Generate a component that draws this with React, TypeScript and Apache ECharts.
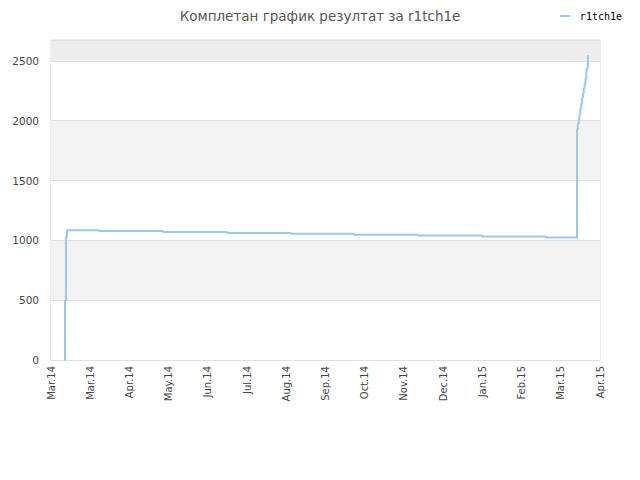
import { useEffect, useRef } from 'react';
import * as echarts from 'echarts';

// x positions are in days from the first tick, y is the score
const tickLabels = ['Mar.14', 'Mar.14', 'Apr.14', 'May.14', 'Jun.14', 'Jul.14', 'Aug.14', 'Sep.14', 'Oct.14', 'Nov.14', 'Dec.14', 'Jan.15', 'Feb.15', 'Mar.15', 'Apr.15'];
const tickStep = 28;
const days = [9.3, 10, 10.7, 11.4, 34.3, 80, 125.7, 171.4, 216.4, 262, 307.7, 353.4, 375.6, 376.2, 376.8, 377.4, 378, 378.6, 379.2, 379.8, 380.4, 381, 381.6, 382.2, 382.7, 383.4];
const scores = [0, 500, 1030, 1085, 1078, 1070, 1062, 1055, 1048, 1040, 1032, 1024, 1930, 1975, 2010, 2060, 2100, 2140, 2190, 2230, 2270, 2310, 2350, 2400, 2440, 2550];

export default function App() {
    const chartRef = useRef<HTMLDivElement>(null);

    useEffect(() => {
        if (!chartRef.current) return;
        const chart = echarts.init(chartRef.current, null, { renderer: 'svg' });
        chart.setOption({
            animation: false,
            title: {
                text: 'Комплетан график резултат за r1tch1e',
                left: 'center',
                top: 4,
                textStyle: { fontFamily: 'DejaVu Sans', fontSize: 13.5, fontWeight: 'normal', color: '#555' }
            },
            legend: {
                right: 13,
                top: 6,
                itemWidth: 10,
                itemHeight: 2,
                itemGap: 5,
                icon: 'rect',
                textStyle: { fontFamily: 'DejaVu Sans Mono', fontSize: 10, color: '#000', padding: [0, 0, 0, 5] },
                data: ['r1tch1e']
            },
            grid: { left: 51, right: 40, top: 40, bottom: 120, show: true, borderColor: '#dcdcdc', borderWidth: 1 },
            xAxis: {
                type: 'value',
                min: 0,
                max: tickStep * (tickLabels.length - 1),
                interval: tickStep,
                axisLine: { show: false },
                axisTick: { show: false },
                splitLine: { show: false },
                axisLabel: {
                    rotate: 90,
                    margin: 6,
                    fontFamily: 'DejaVu Sans',
                    fontSize: 10,
                    color: '#444',
                    showMinLabel: true,
                    showMaxLabel: true,
                    formatter: (v: number) => tickLabels[Math.round(v / tickStep)] ?? ''
                }
            },
            yAxis: {
                type: 'value',
                min: 0,
                max: 2675,
                interval: 500,
                axisLine: { show: false },
                axisTick: { show: false },
                axisLabel: {
                    margin: 12,
                    fontFamily: 'DejaVu Sans',
                    fontSize: 10.5,
                    color: '#444',
                    showMaxLabel: false,
                    formatter: (v: number) => String(v)
                },
                splitLine: { show: true, lineStyle: { color: '#e0e0e0' } },
                splitArea: {
                    show: true,
                    areaStyle: { color: ['#ffffff', '#f3f3f3', '#ffffff', '#f3f3f3', '#ffffff', '#ededed'] }
                }
            },
            series: [
                {
                    name: 'r1tch1e',
                    type: 'line',
                    step: 'end',
                    symbol: 'none',
                    lineStyle: { color: '#99c7f4', width: 2 },
                    itemStyle: { color: '#99c7f4' },
                    data: days.map((d, i) => [d, scores[i]])
                }
            ]
        });
        return () => chart.dispose();
    }, []);

    return <div ref={chartRef} style={{ width: 640, height: 480, margin: -8 }} />;
}
